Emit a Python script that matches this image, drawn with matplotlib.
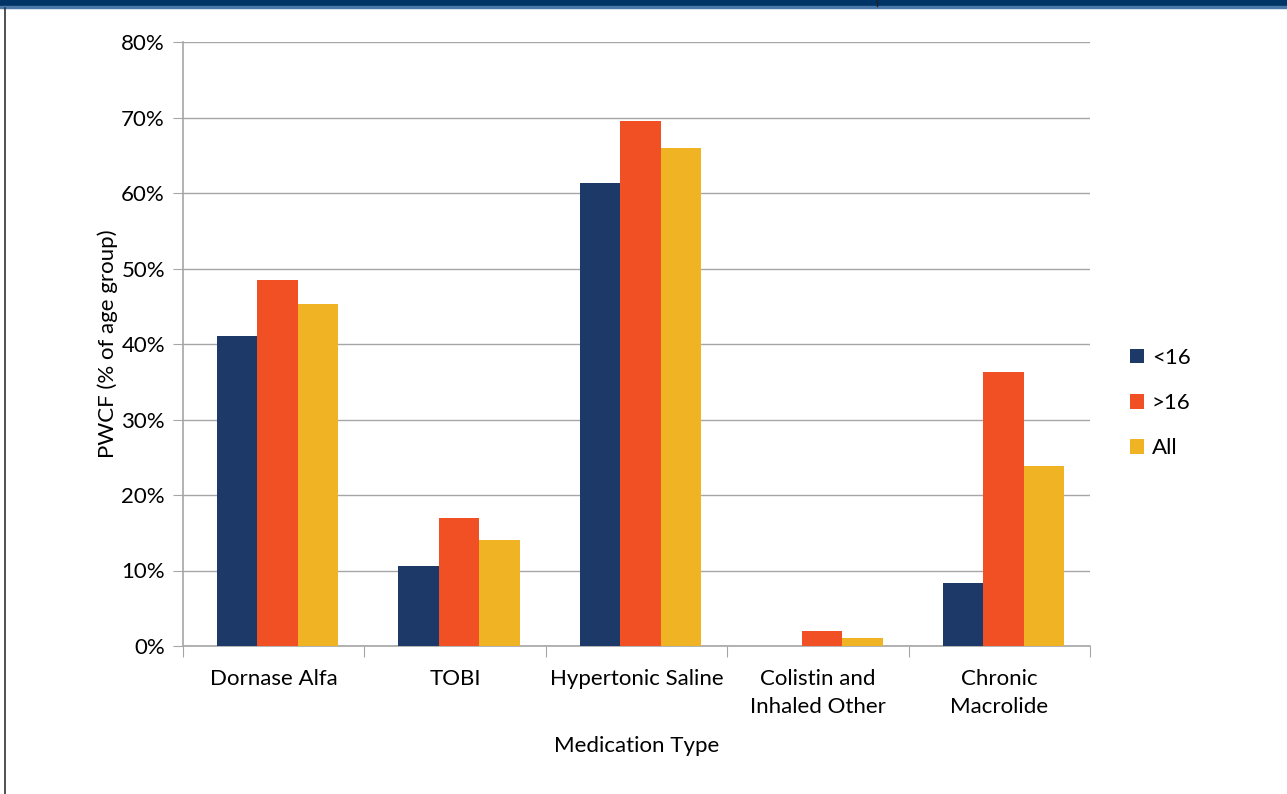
import numpy as np
import matplotlib.pyplot as plt
from matplotlib.patches import Rectangle
from matplotlib.lines import Line2D

plt.rcParams['font.family'] = ['Lato', 'DejaVu Sans']

# 用药类型及各年龄组比例 (%)
categories = ['Dornase Alfa', 'TOBI', 'Hypertonic Saline',
              'Colistin and\nInhaled Other', 'Chronic\nMacrolide']
under16 = [41.1, 10.6, 61.3, 0.0, 8.3]
over16 = [48.5, 17.0, 69.6, 2.0, 36.3]
all_ages = [45.3, 14.1, 66.0, 1.1, 23.8]
series = ['<16', '>16', 'All']
colors = ['#1d3968', '#f15025', '#f0b323']
yticks = [0, 10, 20, 30, 40, 50, 60, 70, 80]

fs = 16
fig = plt.figure(figsize=(12.87, 7.94), dpi=100)
W, H = 1287, 794
ax = fig.add_axes([183 / W, 1 - 646 / H, 907 / W, 604 / H])

x = np.arange(len(categories))
w = 0.223
for i, (vals, c, lab) in enumerate(zip([under16, over16, all_ages], colors, series)):
    ax.bar(x + 0.022 + (i - 1) * w, vals, width=w, color=c, label=lab, zorder=3)

ax.set_xlim(-0.5, len(categories) - 0.5)
ax.set_ylim(0, 80)
ax.set_yticks(yticks)
ax.set_yticklabels([f'{v}%' for v in yticks], fontsize=fs)
ax.yaxis.grid(True, color='#a6a6a6', linewidth=1, zorder=0)
ax.tick_params(axis='y', length=7, color='#a6a6a6', pad=6)

# 类别之间的刻度线
ax.set_xticks(np.arange(-0.5, len(categories)))
ax.set_xticklabels([])
ax.tick_params(axis='x', length=8, color='#a6a6a6')
for xi, lab in zip(x, categories):
    ax.text(xi, -3.1, lab, ha='center', va='top', fontsize=fs,
            linespacing=1.5)

for s in ['top', 'right']:
    ax.spines[s].set_visible(False)
for s in ['left', 'bottom']:
    ax.spines[s].set_color('#a6a6a6')
    ax.spines[s].set_linewidth(1.2)

ax.set_ylabel('PWCF (% of age group)', fontsize=fs, labelpad=2)
ax.set_xlabel('Medication Type', fontsize=fs, labelpad=53)

ax.legend(loc='center left', bbox_to_anchor=(1130 / W, 1 - 403 / H),
          bbox_transform=fig.transFigure, frameon=False, borderpad=0,
          borderaxespad=0, fontsize=fs, handlelength=0.64, handleheight=0.64,
          handletextpad=0.35, labelspacing=1.13)

# 顶部色带与左侧边线
fig.patches.append(Rectangle((0, 1 - 6 / H), 1, 6 / H, transform=fig.transFigure,
                             color='#003366', zorder=0))
fig.patches.append(Rectangle((0, 1 - 8 / H), 1, 2 / H, transform=fig.transFigure,
                             color='#4a78a8', zorder=0))
fig.lines.append(Line2D([877 / W, 877 / W], [1 - 6 / H, 1], transform=fig.transFigure,
                        color='#222222', linewidth=1))
fig.lines.append(Line2D([5 / W, 5 / W], [0, 1 - 8 / H], transform=fig.transFigure,
                        color='#333333', linewidth=1.2))

fig.savefig('out.png', dpi=100)
